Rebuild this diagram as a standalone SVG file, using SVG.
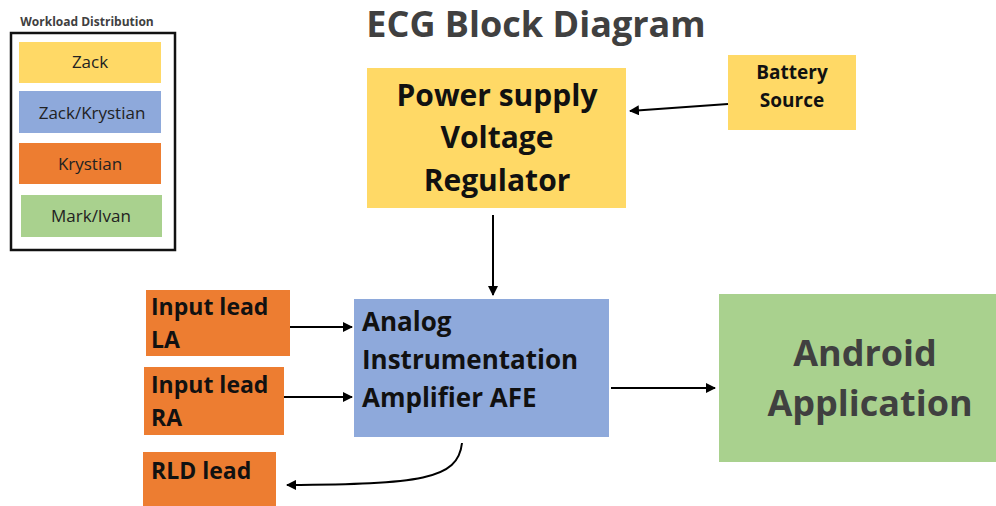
<svg xmlns="http://www.w3.org/2000/svg" width="996" height="506" viewBox="0 0 996 506">
<defs>
<style>
text{font-family:"Open Sans","Liberation Sans",sans-serif;font-weight:bold;}
.dark{fill:#111;}
.grey{fill:#404040;}
.conn{stroke:#000;stroke-width:2;fill:none;marker-end:url(#ah);}
.yellow{fill:#FFD966;}
.blue{fill:#8EA9DB;}
.orange{fill:#ED7D31;}
.green{fill:#A9D18E;}
.leg{font-size:17px;font-weight:normal;fill:#222;}
</style>
<marker id="ah" viewBox="0 0 10 10" refX="9" refY="5" markerWidth="5" markerHeight="5" orient="auto" markerUnits="strokeWidth">
<path d="M0,0 L10,5 L0,10 z" fill="#000"/>
</marker>
</defs>
<rect width="996" height="506" fill="#fff"/>
<g id="legend">
<text x="87" y="26" text-anchor="middle" font-size="12" class="grey">Workload Distribution</text>
<rect x="11" y="33" width="164" height="217" fill="none" stroke="#111" stroke-width="2.5"/>
<rect x="19" y="42" width="142" height="41" class="yellow"/>
<text x="90" y="68" text-anchor="middle" class="leg">Zack</text>
<rect x="19" y="91" width="142" height="42" class="blue"/>
<text x="92" y="119" text-anchor="middle" class="leg">Zack/Krystian</text>
<rect x="19" y="143" width="142" height="41" class="orange"/>
<text x="90" y="170" text-anchor="middle" class="leg">Krystian</text>
<rect x="21" y="195" width="141" height="42" class="green"/>
<text x="91" y="222" text-anchor="middle" class="leg">Mark/Ivan</text>
</g>
<text id="title" x="536" y="37" text-anchor="middle" font-size="36" class="grey">ECG Block Diagram</text>
<g id="power">
<rect x="367" y="68" width="259" height="140" class="yellow"/>
<text x="497" y="106" text-anchor="middle" font-size="30" class="dark">Power supply</text>
<text x="497" y="148" text-anchor="middle" font-size="30" class="dark">Voltage</text>
<text x="497" y="191" text-anchor="middle" font-size="30" class="dark">Regulator</text>
</g>
<g id="battery">
<rect x="728" y="55" width="128" height="75" class="yellow"/>
<text x="792" y="79" text-anchor="middle" font-size="19" class="dark">Battery</text>
<text x="792" y="107" text-anchor="middle" font-size="19" class="dark">Source</text>
</g>
<g id="afe">
<rect x="354" y="299" width="255" height="138" class="blue"/>
<text x="362" y="331" font-size="26" class="dark">Analog</text>
<text x="362" y="369" font-size="26" class="dark">Instrumentation</text>
<text x="362" y="407" font-size="26" class="dark">Amplifier AFE</text>
</g>
<g id="la">
<rect x="146" y="290" width="144" height="66" class="orange"/>
<text x="151" y="315" font-size="23" class="dark">Input lead</text>
<text x="151" y="348" font-size="23" class="dark">LA</text>
</g>
<g id="ra">
<rect x="144" y="367" width="140" height="68" class="orange"/>
<text x="151" y="393" font-size="23" class="dark">Input lead</text>
<text x="151" y="426" font-size="23" class="dark">RA</text>
</g>
<g id="rld">
<rect x="143" y="452" width="133" height="54" class="orange"/>
<text x="151" y="479" font-size="23" class="dark">RLD lead</text>
</g>
<g id="android">
<rect x="719" y="294" width="277" height="168" class="green"/>
<text x="865" y="366" text-anchor="middle" font-size="36" class="grey">Android</text>
<text x="870" y="416" text-anchor="middle" font-size="36" class="grey">Application</text>
</g>
<g id="connectors">
<path class="conn" d="M728,104 L630,111"/>
<path class="conn" d="M493,215 L493,295"/>
<path class="conn" d="M290,327 L352,327"/>
<path class="conn" d="M284,397 L352,397"/>
<path class="conn" d="M611,388 L715,388"/>
<path class="conn" d="M462,443 C458,480 420,484 287,485"/>
</g>
</svg>
